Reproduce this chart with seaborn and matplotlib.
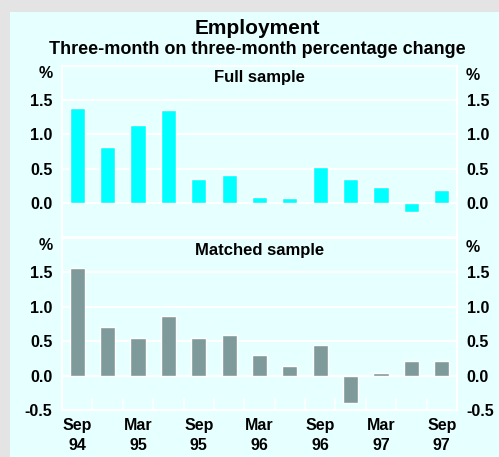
import matplotlib
matplotlib.use("Agg")
import matplotlib.pyplot as plt
import seaborn as sns
import pandas as pd
from matplotlib.patches import Rectangle

periods = ["Sep 94", "Dec 94", "Mar 95", "Jun 95", "Sep 95", "Dec 95", "Mar 96",
           "Jun 96", "Sep 96", "Dec 96", "Mar 97", "Jun 97", "Sep 97"]
full_sample = [1.39, 0.81, 1.14, 1.36, 0.35, 0.41, 0.09, 0.07, 0.53, 0.35, 0.23, -0.13, 0.19]
matched_sample = [1.57, 0.71, 0.55, 0.87, 0.54, 0.59, 0.30, 0.14, 0.45, -0.40, 0.04, 0.21, 0.21]
tick_labels = ["Sep\n94", "", "Mar\n95", "", "Sep\n95", "", "Mar\n96", "", "Sep\n96", "",
               "Mar\n97", "", "Sep\n97"]
y_ticks = [-0.5, 0.0, 0.5, 1.0, 1.5]

sns.set_theme(style="white")
plt.rcParams['font.family'] = ['Liberation Sans', 'DejaVu Sans']
plt.rcParams['font.weight'] = 'bold'
plt.rcParams['text.color'] = 'black'
plt.rcParams['xtick.color'] = 'black'
plt.rcParams['ytick.color'] = 'black'
plt.rcParams['xtick.labelcolor'] = 'black'
plt.rcParams['ytick.labelcolor'] = 'black'

W, H = 499, 457
fig = plt.figure(figsize=(W / 100, H / 100), dpi=100)
fig.patch.set_facecolor('#e4e4e4')
fig.patches.append(Rectangle((10 / W, 0), (W - 10) / W, (H - 12) / H, transform=fig.transFigure,
                             facecolor='#e6ffff', edgecolor='none', zorder=-5))

bg = '#e6ffff'
left, right = 62 / W, 457 / W
TS = 11.5

def make_panel(top_px, bot_px, values, color, title, show_x):
    ax = fig.add_axes([left, 1 - bot_px / H, right - left, (bot_px - top_px) / H])
    ax.set_facecolor(bg)
    df = pd.DataFrame({"period": periods, "value": values})
    sns.barplot(data=df, x="period", y="value", color=color, saturation=1, width=0.5, ax=ax, zorder=3)
    ax.set_xlim(-0.5, 12.5)
    ax.set_ylim(-0.5, 2.0)
    ax.set_yticks(y_ticks)
    labs = ["" if t == -0.5 and not show_x else f"{t:.1f}" for t in y_ticks]
    ax.set_yticklabels(labs, fontweight='bold')
    for t in [0.0, 0.5, 1.0, 1.5]:
        ax.axhline(t, color='white', lw=1.6, zorder=1)
    ax.tick_params(axis='y', left=False, right=False, labelleft=True, labelright=True,
                   labelsize=TS, pad=7, length=0, labelcolor='black')
    for s in ax.spines.values():
        s.set_color('white')
        s.set_linewidth(1.6)
    ax.set_xlabel("")
    ax.set_ylabel("")
    if show_x:
        ax.set_xticks([i + 0.5 for i in range(12)], minor=True)
        ax.tick_params(axis='x', which='minor', direction='in', length=9, width=1.2, color='white',
                       bottom=True)
        ax.set_xticks(range(13))
        ax.set_xticklabels(tick_labels, fontsize=TS, fontweight='bold', linespacing=1.4, color='black')
        ax.tick_params(axis='x', which='major', length=0, pad=6)
    else:
        ax.set_xticks([])
    ax.text(0.5, 0.93, title, transform=ax.transAxes, ha='center', va='center',
            fontsize=12, fontweight='bold', color='black')
    ax.text(-16 / (right - left) / W, (bot_px - top_px - 8) / (bot_px - top_px), "%",
            transform=ax.transAxes, ha='center', va='center', fontsize=TS, fontweight='bold')
    ax.text(1 + 16 / (right - left) / W, (bot_px - top_px - 10) / (bot_px - top_px), "%",
            transform=ax.transAxes, ha='center', va='center', fontsize=TS, fontweight='bold')
    return ax

ax1 = make_panel(66, 237, full_sample, '#00ffff', "Full sample", False)
ax2 = make_panel(238, 410, matched_sample, '#7f9a9a', "Matched sample", True)

fig.text(0.515, 1 - 28 / H, "Employment", ha='center', va='center', fontsize=15, fontweight='bold')
fig.text(0.515, 1 - 50 / H, "Three-month on three-month percentage change", ha='center', va='center',
         fontsize=13, fontweight='bold')

fig.savefig("out.png", dpi=100, facecolor=fig.get_facecolor())
